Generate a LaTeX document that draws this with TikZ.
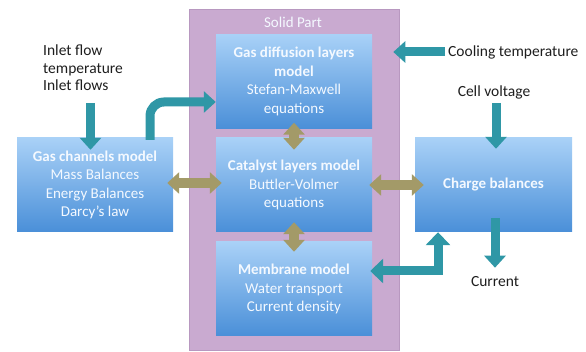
\documentclass[tikz,border=0pt]{standalone}
\usepackage{fontspec}
\setmainfont{Carlito}
\usetikzlibrary{arrows.meta,calc}
\definecolor{purplebg}{HTML}{C9AAD0}
\definecolor{purpleln}{HTML}{B898C0}
\definecolor{boxtop}{HTML}{A9D1F7}
\definecolor{boxbot}{HTML}{4A8FD8}
\definecolor{tealc}{HTML}{2F97A6}
\definecolor{khaki}{HTML}{A39A68}
\definecolor{boxtext}{HTML}{F4F9FF}
\definecolor{labeltext}{HTML}{1E1E1E}
\tikzset{
  modelbox/.style={rectangle, top color=boxtop, bottom color=boxbot, draw=none,
    minimum width=156pt, minimum height=94pt, inner sep=2pt, align=center,
    text=boxtext, font=\fontsize{15}{18.5}\selectfont},
  solidbox/.style={rectangle, fill=purplebg, draw=purpleln, line width=0.6pt,
    minimum width=210pt, minimum height=341pt, inner sep=0pt},
  lbl/.style={text=labeltext, font=\fontsize{15.5}{17.5}\selectfont, inner sep=2pt},
  tealarr/.style={draw=tealc, line width=9pt, -{Triangle[width=21pt,length=12pt]}},
  tealdbl/.style={draw=tealc, line width=9pt, {Triangle[width=24pt,length=13pt]}-{Triangle[width=24pt,length=13pt]}},
  khakidbl/.style={draw=khaki, line width=10pt, {Triangle[width=21pt,length=12pt]}-{Triangle[width=21pt,length=12pt]}},
}
\begin{document}
\begin{tikzpicture}[x=1pt,y=-1pt]
\useasboundingbox (0,0) rectangle (586,352);
% solid part
\node[solidbox] (solid) at (294,179.5) {};
\node[text=boxtext, font=\fontsize{15}{17}\selectfont] (solidlbl) at (293,22) {Solid Part};
% boxes
\node[modelbox] (gdl) at (294,81.5) {\textbf{Gas diffusion layers}\\\textbf{model}\\Stefan-Maxwell\\equations};
\node[modelbox] (cat) at (294,185) {\textbf{Catalyst layers model}\\Buttler-Volmer\\equations};
\node[modelbox] (mem) at (294,289) {\textbf{Membrane model}\\Water transport\\Current density};
\node[modelbox] (gc) at (95,185) {\textbf{Gas channels model}\\Mass Balances\\Energy Balances\\Darcy’s law};
\node[modelbox, minimum width=157pt] (charge) at (493.5,185) {\textbf{Charge balances}};
% labels
\node[lbl, anchor=north west, align=left] (inlet) at (41,43) {Inlet flow\\temperature\\Inlet flows};
\node[lbl, anchor=west] (cool) at (446,52) {Cooling temperature};
\node[lbl] (cv) at (494,92) {Cell voltage};
\node[lbl] (cur) at (495,282) {Current};
% coordinates
\coordinate (inA) at (90.5,103);
\coordinate (cu) at (150,102);
\coordinate (elb) at (438,271);
% teal arrows
\draw[tealarr, shorten >=-12pt] (inA) -- (inA |- gc.north);
\draw[tealarr, rounded corners=14pt] ($(gc.north -| cu)+(0,2)$) -- (cu) -- (cu -| gdl.west);
\draw[tealarr, shorten >=-6pt] ($(cool.west)+(-1,0)$) -- (cool.west -| solid.east);
\draw[tealarr, shorten >=-11pt] ($(cv.south |- 0,103)+(2,0)$) -- ($(cv.south |- charge.north)+(2,0)$);
\draw[tealarr, shorten <=-14pt, shorten >=7pt] (charge.south -| cur) -- (cur.north);
\draw[tealdbl, shorten >=-2pt] (charge.south -| elb) -- (elb) -- (elb -| mem.east);
% khaki arrows
\draw[khakidbl, shorten <=-6pt, shorten >=-6pt] ($(gc.east)+(0,-2)$) -- ($(cat.west)+(0,-2)$);
\draw[khakidbl, shorten <=-3pt, shorten >=-9pt] (cat.east) -- (charge.west);
\draw[khakidbl, shorten <=-6pt, shorten >=-12pt] (gdl.south) -- (cat.north);
\draw[khakidbl, shorten <=-10pt, shorten >=-10pt] (cat.south) -- (mem.north);
\end{tikzpicture}
\end{document}
